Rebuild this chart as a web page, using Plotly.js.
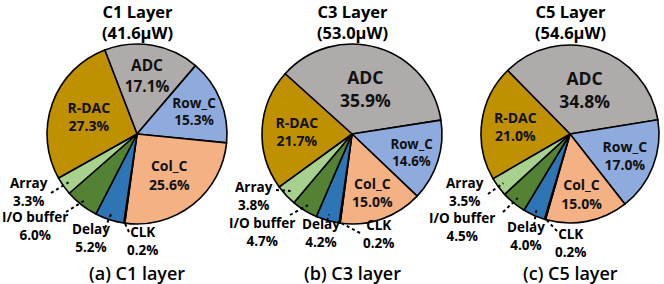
<!DOCTYPE html>
<html><head><meta charset="utf-8">
<script src="https://cdn.plot.ly/plotly-3.0.1.min.js"></script>
<style>html,body{margin:0;padding:0;background:#fff}#chart{width:664px;height:284px}</style>
</head><body><div id="chart"></div>
<script>
// ---- data ----
const categories = ['ADC', 'Row_C', 'Col_C', 'CLK', 'Delay', 'I/O buffer', 'Array', 'R-DAC'];
const c1Values = [17.1, 15.3, 25.6, 0.2, 5.2, 6.0, 3.3, 27.3];
const c3Values = [35.9, 14.6, 15.0, 0.2, 4.2, 4.7, 3.8, 21.7];
const c5Values = [34.8, 17.0, 15.0, 0.2, 4.0, 4.5, 3.5, 21.0];
const layerTitles = ['C1 Layer', 'C3 Layer', 'C5 Layer'];
const layerPowers = ['(41.6μW)', '(53.0μW)', '(54.6μW)'];
const captions = ['(a) C1 layer', '(b) C3 layer', '(c) C5 layer'];
const insideCats = ['ADC', 'Row_C', 'Col_C', 'R-DAC'];
const outsideCats = ['Array', 'I/O buffer', 'Delay', 'CLK'];

// ---- styling / layout ----
const colors = ['#AFABAB', '#8FAADC', '#F4B183', '#FFC000', '#2E75B6', '#548235', '#A9D18E', '#BF9000'];
const FONT = 'Open Sans, Noto Sans, sans-serif';
const W = 664, H = 284;
const seriesList = [c1Values, c3Values, c5Values];
const pieGeom = [
  {cx: 137, cy: 134, r: 90, rot: -21,
   lab: {'Array': [29, 192], 'I/O buffer': [35, 226], 'Delay': [91, 238], 'CLK': [142, 241]},
   end: {'Array': [51, 193], 'I/O buffer': [66, 212], 'Delay': [105, 228], 'CLK': [129, 232]}},
  {cx: 352, cy: 134, r: 90, rot: -48,
   lab: {'Array': [254, 196], 'I/O buffer': [262, 232], 'Delay': [321, 233], 'CLK': [378, 234]},
   end: {'Array': [276, 190], 'I/O buffer': [290, 215], 'Delay': [327, 221], 'CLK': [360, 233]}},
  {cx: 570, cy: 134, r: 89, rot: -44.5,
   lab: {'Array': [465, 192], 'I/O buffer': [462, 227], 'Delay': [526, 236], 'CLK': [570, 243]},
   end: {'Array': [488, 194], 'I/O buffer': [503, 212], 'Delay': [534, 225], 'CLK': [557, 231]}}
];
const px = x => x / W, py = y => 1 - y / H;

const traces = [], annotations = [], shapes = [];
seriesList.forEach((vals, k) => {
  const g = pieGeom[k];
  const text = categories.map((c, i) => insideCats.includes(c) ? c + '<br>' + vals[i].toFixed(1) + '%' : '');
  const sizes = categories.map(c => c === 'ADC' ? 17.5 : 14);
  traces.push({
    type: 'pie', values: vals, labels: categories, sort: false, direction: 'clockwise', rotation: g.rot,
    marker: {colors: colors, line: {color: '#000', width: 1.6}},
    text: text, textinfo: 'text', textposition: 'inside', insidetextorientation: 'horizontal',
    insidetextfont: {family: FONT, size: sizes, color: '#111', weight: 'bold'},
    domain: {x: [px(g.cx - g.r), px(g.cx + g.r)], y: [py(g.cy + g.r), py(g.cy - g.r)]},
    hoverinfo: 'none', showlegend: false
  });
  // title (two lines)
  annotations.push({text: '<b>' + layerTitles[k] + '<br>' + layerPowers[k] + '</b>', x: px(g.cx), y: py(22.5),
    xref: 'paper', yref: 'paper', showarrow: false, xanchor: 'center', yanchor: 'middle', align: 'center',
    font: {family: FONT, size: 16.5, color: '#000'}});
  // caption
  annotations.push({text: captions[k], x: px(g.cx), y: py(272.5), xref: 'paper', yref: 'paper',
    showarrow: false, xanchor: 'center', yanchor: 'middle', font: {family: FONT, size: 18, color: '#000', weight: 600}});
  // outside labels + leader lines
  const total = vals.reduce((a, b) => a + b, 0);
  let cum = 0;
  categories.forEach((c, i) => {
    const mid = cum + vals[i] / 2;
    cum += vals[i];
    if (!outsideCats.includes(c)) return;
    const lp = g.lab[c];
    annotations.push({text: '<b>' + c + '<br>' + vals[i].toFixed(1) + '%</b>', x: px(lp[0]), y: py(lp[1]),
      xref: 'paper', yref: 'paper', showarrow: false, xanchor: 'center', yanchor: 'middle', align: 'center',
      font: {family: FONT, size: 13.5, color: '#000'}});
    const ang = (g.rot + 360 * mid / total) * Math.PI / 180;
    const rr = (c === 'CLK' ? 0.99 : 0.93) * g.r;
    const ix = g.cx + rr * Math.sin(ang), iy = g.cy - rr * Math.cos(ang);
    const e = g.end[c];
    shapes.push({type: 'line', xref: 'paper', yref: 'paper', x0: px(e[0]), y0: py(e[1]), x1: px(ix), y1: py(iy),
      line: {color: '#000', width: 2, dash: 'dot'}});
  });
});

Plotly.newPlot('chart', traces, {
  width: W, height: H, margin: {l: 0, r: 0, t: 0, b: 0},
  paper_bgcolor: '#fff', showlegend: false,
  annotations: annotations, shapes: shapes
}, {staticPlot: true, displayModeBar: false});
</script>
</body></html>
